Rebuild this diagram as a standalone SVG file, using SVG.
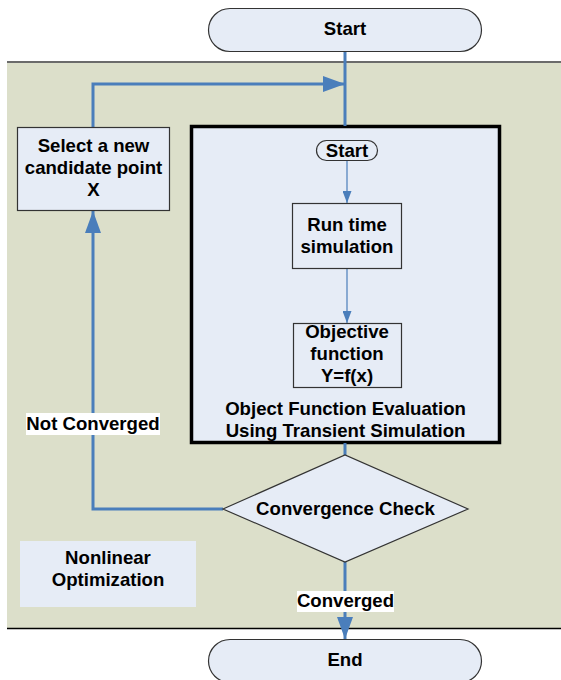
<svg xmlns="http://www.w3.org/2000/svg" width="561" height="680" viewBox="0 0 561 680">
<defs>
<style>
text{font-family:"Liberation Sans",Arial,sans-serif;font-weight:bold;font-size:18.6px;fill:#000;text-anchor:middle}
.box{fill:#e6ecf6;stroke:#333;stroke-width:1.2}
.conn{fill:none;stroke:#4a7ebb;stroke-width:3}
.thin{fill:none;stroke:#4a7ebb;stroke-width:1.2}
.lbl{fill:#fff}
</style>
<marker id="ah" markerUnits="userSpaceOnUse" viewBox="0 0 22 16" refX="22" refY="8" markerWidth="22" markerHeight="16" orient="auto"><path d="M0,0 L22,8 L0,16 Z" fill="#4a7ebb"/></marker>
<marker id="ahs" markerUnits="userSpaceOnUse" viewBox="0 0 12 9" refX="12" refY="4.5" markerWidth="12" markerHeight="9" orient="auto"><path d="M0,0 L12,4.5 L0,9 Z" fill="#4a7ebb"/></marker>
</defs>
<g id="panel">
<rect x="7" y="61" width="554" height="567" fill="#dcdfca"/>
<line x1="7" y1="62" x2="561" y2="62" stroke="#6b6b6b" stroke-width="2"/>
<line x1="7" y1="628.5" x2="561" y2="628.5" stroke="#000" stroke-width="1.5"/>
</g>
<g id="nonlinear">
<rect x="20" y="541" width="176" height="66" fill="#e6ecf6"/>
<text x="108" y="564">Nonlinear</text>
<text x="108" y="586">Optimization</text>
</g>
<g id="evalbox">
<rect x="191.5" y="126.5" width="308" height="316" fill="#e6ecf6" stroke="#000" stroke-width="3.5"/>
<text x="345.5" y="415">Object Function Evaluation</text>
<text x="345.5" y="437">Using Transient Simulation</text>
</g>
<g id="connectors">
<path class="conn" d="M345,51 V126"/>
<path class="conn" d="M93,127 V84 H345" marker-end="url(#ah)"/>
<path class="conn" d="M345,443 V455"/>
<path class="conn" d="M223,509 H93 V211" marker-end="url(#ah)"/>
<path class="conn" d="M345,562 V639" marker-end="url(#ah)"/>
<path class="thin" d="M347,161 V203" marker-end="url(#ahs)"/>
<path class="thin" d="M347,269 V323" marker-end="url(#ahs)"/>
<rect class="lbl" x="26" y="413" width="134" height="22"/>
<text x="93" y="430">Not Converged</text>
<rect class="lbl" x="297" y="591" width="97" height="21"/>
<text x="345.5" y="607">Converged</text>
</g>
<g id="start">
<rect class="box" x="208.5" y="8.5" width="273" height="43" rx="21.5"/>
<text x="345" y="35">Start</text>
</g>
<g id="select">
<rect class="box" x="17.5" y="127.5" width="152" height="83"/>
<text x="93.5" y="152">Select a new</text>
<text x="93.5" y="174">candidate point</text>
<text x="93.5" y="196">X</text>
</g>
<g id="innerstart">
<rect class="box" x="316.5" y="140.5" width="61" height="20" rx="10"/>
<text x="347" y="157">Start</text>
</g>
<g id="run">
<rect class="box" x="292.5" y="203.5" width="109" height="65"/>
<text x="347" y="231">Run time</text>
<text x="347" y="253">simulation</text>
</g>
<g id="objective">
<rect class="box" x="293.5" y="323.5" width="108" height="64"/>
<text x="347" y="338">Objective</text>
<text x="347" y="360">function</text>
<text x="347" y="382">Y=f(x)</text>
</g>
<g id="check">
<polygon class="box" points="223,509 345,455 468,509 345,562"/>
<text x="345.5" y="515">Convergence Check</text>
</g>
<g id="end">
<rect class="box" x="208.5" y="639.5" width="273" height="43" rx="21.5"/>
<text x="345" y="666">End</text>
</g>
</svg>
